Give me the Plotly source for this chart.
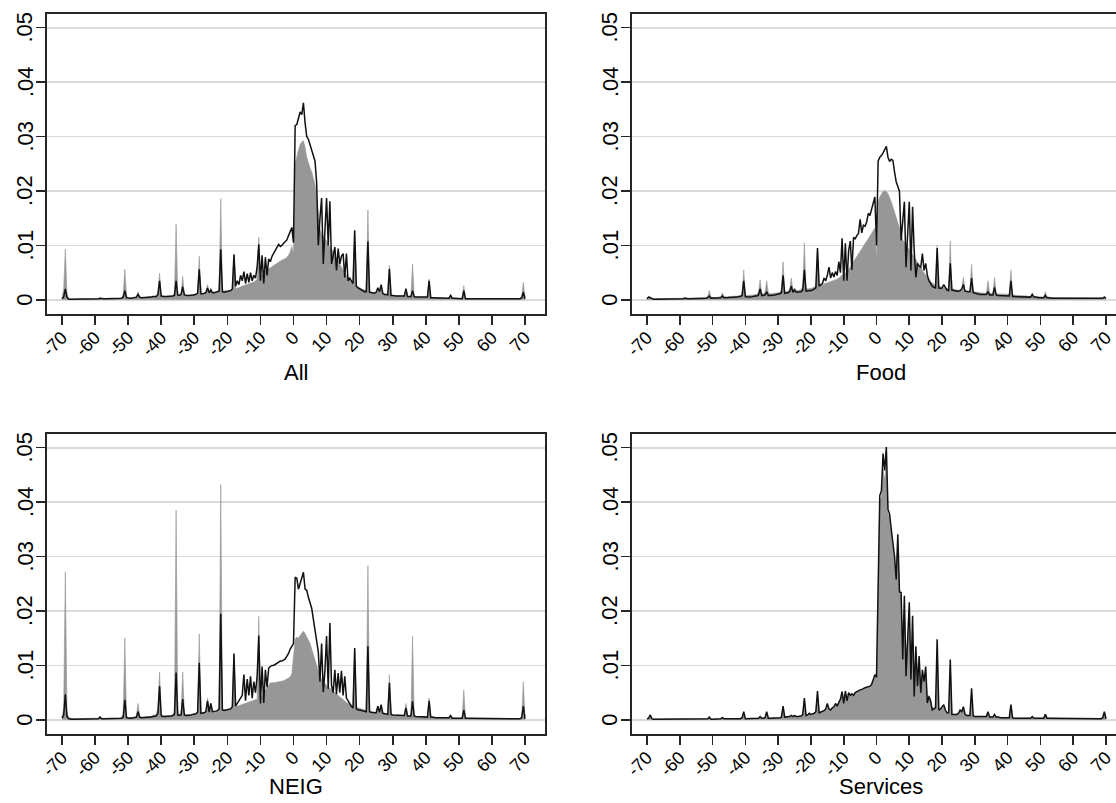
import plotly.graph_objects as go

# ---------------- data (values in units of 0.0001) ----------------
x_values = [i / 2 for i in range(-140, 141)]  # -70 .. 70 step 0.5
unit = 0.0001

panel_titles = ["All", "Food", "NEIG", "Services"]
x_tick_vals = [-70, -60, -50, -40, -30, -20, -10, 0, 10, 20, 30, 40, 50, 60, 70]
x_tick_text = ["-70", "-60", "-50", "-40", "-30", "-20", "-10", "0", "10", "20", "30", "40", "50", "60", "70"]
y_tick_vals = [0, 0.01, 0.02, 0.03, 0.04, 0.05]
y_tick_text = ["0", ".01", ".02", ".03", ".04", ".05"]

fill_all = [
    3, 20, 93, 12, 2, 1, 1, 1, 1, 1, 1, 1, 1, 1, 1, 1, 1, 1, 1, 1,
    1, 1, 2, 4, 2, 1, 1, 1, 2, 2, 2, 2, 2, 2, 2, 2, 3, 10, 56, 8,
    3, 3, 3, 3, 4, 6, 15, 5, 4, 4, 4, 5, 5, 5, 6, 6, 6, 7, 12, 49,
    8, 6, 6, 6, 7, 7, 7, 8, 12, 139, 10, 8, 10, 43, 9, 8, 8, 8, 9, 9,
    9, 10, 14, 80, 12, 11, 12, 14, 28, 13, 22, 14, 14, 15, 15, 20, 186, 18, 16, 17,
    15, 16, 17, 20, 84, 21, 21, 22, 24, 25, 26, 27, 28, 29, 30, 31, 33, 35, 38, 115,
    42, 46, 50, 53, 55, 57, 60, 62, 64, 66, 68, 70, 72, 73, 74, 76, 78, 82, 88, 98,
    85, 250, 265, 275, 285, 290, 292, 280, 262, 250, 242, 235, 225, 212, 190, 165, 130, 122, 118, 112,
    108, 102, 98, 94, 88, 82, 76, 70, 65, 60, 55, 50, 45, 40, 36, 32, 30, 120, 26, 24,
    22, 20, 19, 18, 17, 165, 16, 14, 13, 12, 12, 16, 14, 24, 11, 10, 10, 10, 63, 9,
    8, 8, 8, 7, 7, 7, 7, 7, 22, 6, 6, 6, 66, 6, 5, 5, 5, 5, 5, 5,
    5, 5, 38, 4, 4, 4, 4, 4, 4, 4, 3, 3, 3, 3, 3, 10, 3, 3, 3, 3,
    2, 2, 2, 26, 2, 2, 2, 2, 2, 2, 2, 2, 2, 2, 2, 2, 2, 2, 2, 2,
    2, 2, 2, 2, 2, 2, 2, 2, 2, 2, 2, 2, 2, 2, 2, 2, 2, 2, 5, 32,
    3,
]
line_all = [
    2, 5, 20, 5, 1, 1, 1, 1, 1, 1, 1, 1, 1, 1, 1, 1, 1, 1, 1, 1,
    1, 1, 2, 3, 2, 2, 2, 2, 2, 2, 2, 2, 2, 2, 2, 3, 3, 5, 17, 4,
    3, 3, 3, 4, 4, 5, 10, 5, 4, 4, 4, 5, 5, 5, 5, 6, 6, 6, 10, 35,
    7, 6, 6, 6, 6, 6, 7, 7, 8, 35, 9, 8, 10, 24, 9, 8, 8, 8, 9, 9,
    9, 10, 12, 56, 11, 11, 12, 13, 22, 13, 18, 13, 13, 14, 14, 16, 93, 15, 14, 15,
    15, 16, 17, 20, 83, 25, 35, 28, 45, 35, 52, 30, 48, 32, 50, 35, 45, 40, 60, 102,
    35, 82, 30, 78, 45, 75, 70, 80, 85, 90, 95, 102, 98, 100, 104, 108, 110, 118, 125, 133,
    105, 320, 322, 335, 345, 340, 362, 325, 300, 295, 285, 275, 262, 255, 215, 100, 150, 187, 66, 120,
    187, 100, 181, 66, 80, 97, 54, 94, 66, 80, 85, 41, 85, 35, 40, 35, 30, 128, 25, 22,
    20, 18, 17, 15, 15, 107, 14, 13, 13, 12, 14, 22, 15, 28, 12, 10, 10, 9, 57, 8,
    8, 7, 7, 7, 7, 7, 7, 7, 20, 6, 6, 6, 17, 6, 5, 5, 5, 5, 5, 5,
    5, 5, 35, 4, 4, 4, 4, 4, 4, 4, 3, 3, 3, 3, 3, 8, 3, 3, 3, 3,
    2, 2, 2, 17, 2, 2, 2, 2, 2, 2, 2, 2, 2, 2, 2, 2, 2, 2, 2, 2,
    2, 2, 2, 2, 2, 2, 2, 2, 2, 2, 2, 2, 2, 2, 2, 2, 2, 2, 4, 14,
    2,
]

fill_food = [
    3, 6, 5, 3, 2, 2, 2, 2, 2, 2, 2, 2, 2, 2, 2, 2, 2, 2, 2, 2,
    2, 2, 3, 4, 3, 3, 3, 3, 3, 3, 3, 3, 3, 3, 3, 3, 4, 6, 17, 5,
    4, 4, 4, 4, 5, 6, 13, 6, 5, 5, 6, 6, 6, 6, 7, 7, 7, 8, 12, 55,
    9, 8, 8, 8, 9, 9, 10, 10, 14, 37, 12, 11, 13, 35, 12, 11, 11, 12, 12, 13,
    13, 14, 18, 70, 15, 15, 16, 18, 40, 18, 22, 17, 17, 18, 19, 24, 105, 20, 20, 21,
    21, 22, 23, 25, 95, 26, 27, 28, 29, 30, 31, 32, 33, 34, 35, 37, 38, 40, 42, 45,
    45, 48, 52, 56, 60, 65, 70, 75, 80, 85, 90, 95, 100, 104, 108, 112, 117, 122, 128, 132,
    76, 180, 189, 195, 199, 200, 199, 195, 189, 180, 171, 162, 152, 143, 134, 122, 110, 105, 100, 97,
    92, 88, 83, 78, 73, 69, 64, 60, 55, 50, 45, 41, 37, 34, 31, 29, 27, 100, 25, 24,
    23, 22, 22, 21, 21, 108, 20, 19, 19, 18, 18, 18, 20, 41, 17, 16, 16, 16, 65, 15,
    15, 14, 14, 13, 13, 13, 13, 12, 35, 12, 12, 12, 41, 11, 11, 11, 10, 10, 10, 10,
    10, 10, 55, 9, 9, 8, 8, 8, 8, 7, 7, 7, 7, 6, 6, 12, 6, 6, 6, 5,
    5, 5, 5, 15, 5, 5, 4, 4, 4, 4, 4, 4, 4, 4, 4, 4, 4, 4, 3, 3,
    3, 3, 3, 3, 3, 3, 3, 3, 3, 3, 3, 3, 3, 3, 3, 3, 3, 3, 3, 6,
    3,
]
line_food = [
    2, 5, 4, 2, 1, 1, 1, 1, 1, 1, 1, 1, 1, 1, 1, 1, 1, 1, 1, 1,
    1, 1, 2, 3, 2, 2, 2, 2, 2, 2, 2, 2, 2, 2, 2, 2, 3, 4, 7, 3,
    3, 3, 3, 3, 4, 4, 7, 4, 4, 4, 5, 5, 5, 5, 5, 5, 6, 6, 8, 35,
    6, 5, 5, 5, 6, 6, 7, 7, 9, 20, 8, 8, 9, 15, 8, 8, 8, 9, 9, 10,
    10, 11, 13, 45, 12, 12, 13, 15, 25, 14, 18, 14, 14, 15, 15, 18, 55, 16, 16, 17,
    17, 18, 20, 22, 95, 25, 28, 30, 40, 35, 45, 60, 40, 50, 42, 52, 45, 70, 50, 113,
    35, 104, 35, 90, 108, 55, 115, 112, 118, 122, 148, 123, 137, 135, 143, 159, 155, 165, 175, 189,
    100, 255, 262, 265, 270, 275, 282, 262, 254, 258, 256, 235, 217, 208, 199, 109, 150, 180, 60, 120,
    180, 54, 171, 90, 41, 67, 62, 60, 85, 54, 67, 45, 35, 30, 25, 23, 22, 95, 22, 21,
    22, 28, 22, 18, 17, 67, 18, 17, 16, 16, 16, 17, 20, 28, 16, 15, 15, 15, 40, 13,
    12, 11, 11, 10, 10, 10, 10, 10, 15, 9, 9, 9, 23, 9, 8, 8, 8, 8, 8, 7,
    7, 7, 35, 6, 6, 6, 6, 5, 5, 5, 5, 5, 5, 5, 5, 10, 5, 5, 4, 4,
    4, 4, 4, 8, 4, 4, 3, 3, 3, 3, 3, 3, 3, 3, 3, 3, 3, 3, 3, 3,
    3, 3, 3, 3, 3, 2, 2, 2, 2, 2, 2, 2, 2, 2, 2, 2, 2, 2, 3, 5,
    3,
]

fill_neig = [
    5, 20, 272, 15, 4, 3, 2, 2, 2, 2, 2, 2, 2, 2, 2, 2, 2, 2, 2, 2,
    2, 2, 3, 6, 3, 2, 2, 2, 3, 3, 3, 3, 3, 3, 3, 3, 4, 10, 150, 8,
    4, 4, 4, 5, 5, 8, 30, 7, 5, 5, 5, 6, 6, 6, 7, 8, 8, 10, 22, 88,
    9, 7, 7, 7, 8, 8, 8, 9, 14, 385, 12, 10, 12, 88, 10, 9, 9, 9, 10, 10,
    10, 11, 15, 158, 13, 12, 13, 15, 40, 16, 30, 15, 15, 16, 17, 22, 432, 20, 18, 19,
    19, 20, 21, 24, 120, 24, 25, 26, 27, 28, 29, 30, 31, 32, 33, 34, 35, 36, 38, 190,
    40, 44, 50, 55, 60, 64, 68, 68, 68, 69, 69, 70, 70, 71, 72, 73, 75, 77, 79, 85,
    120, 148, 152, 150, 155, 160, 163, 158, 152, 148, 140, 130, 120, 108, 96, 88, 80, 74, 70, 66,
    62, 60, 58, 56, 53, 50, 47, 45, 42, 40, 37, 35, 32, 30, 28, 26, 25, 130, 23, 22,
    21, 20, 19, 18, 17, 283, 16, 15, 14, 14, 13, 25, 13, 25, 12, 11, 11, 10, 83, 10,
    9, 9, 9, 8, 8, 8, 8, 8, 30, 7, 7, 7, 154, 7, 6, 6, 6, 6, 6, 5,
    5, 5, 40, 5, 5, 4, 4, 4, 4, 4, 4, 4, 4, 4, 4, 8, 3, 3, 3, 3,
    3, 3, 3, 55, 3, 3, 3, 3, 3, 3, 3, 3, 3, 3, 3, 3, 2, 2, 2, 2,
    2, 2, 2, 2, 2, 2, 2, 2, 2, 2, 2, 2, 2, 2, 2, 2, 2, 2, 5, 70,
    3,
]
line_neig = [
    3, 8, 47, 6, 2, 1, 1, 1, 1, 1, 1, 1, 1, 1, 1, 1, 1, 1, 1, 1,
    1, 1, 2, 5, 2, 2, 2, 2, 2, 2, 2, 2, 2, 2, 2, 3, 3, 5, 37, 4,
    3, 3, 3, 4, 4, 5, 15, 5, 4, 4, 4, 5, 5, 5, 5, 6, 6, 7, 12, 62,
    8, 6, 6, 6, 7, 7, 7, 8, 10, 87, 9, 8, 9, 38, 9, 8, 8, 9, 9, 10,
    10, 11, 14, 105, 12, 12, 13, 15, 35, 14, 30, 15, 15, 16, 17, 20, 195, 18, 17, 18,
    18, 19, 20, 24, 122, 25, 30, 35, 40, 45, 83, 35, 75, 45, 80, 40, 70, 50, 80, 155,
    30, 98, 31, 92, 60, 95, 98, 100, 100, 102, 105, 106, 108, 108, 110, 112, 117, 122, 130, 135,
    140, 262, 260, 240, 250, 258, 271, 240, 238, 225, 215, 205, 185, 165, 154, 125, 70, 140, 51, 90,
    154, 57, 178, 63, 50, 92, 47, 86, 50, 90, 45, 80, 40, 35, 28, 25, 22, 132, 20, 18,
    18, 17, 16, 15, 15, 135, 15, 14, 13, 13, 13, 25, 14, 28, 12, 11, 11, 10, 68, 10,
    9, 9, 8, 8, 8, 8, 8, 8, 22, 7, 7, 7, 34, 7, 6, 6, 6, 6, 6, 5,
    5, 5, 35, 5, 5, 4, 4, 4, 4, 4, 4, 4, 4, 4, 4, 8, 3, 3, 3, 3,
    3, 3, 3, 18, 3, 3, 3, 3, 3, 3, 3, 3, 3, 3, 3, 3, 2, 2, 2, 2,
    2, 2, 2, 2, 2, 2, 2, 2, 2, 2, 2, 2, 2, 2, 2, 2, 2, 2, 4, 25,
    2,
]

fill_serv = [
    1, 2, 7, 2, 1, 1, 1, 1, 1, 1, 1, 1, 1, 1, 1, 1, 1, 1, 1, 1,
    1, 1, 1, 2, 1, 1, 1, 1, 1, 1, 1, 1, 1, 1, 1, 1, 1, 2, 4, 1,
    1, 1, 1, 1, 2, 2, 3, 2, 2, 2, 2, 2, 2, 2, 2, 2, 2, 2, 4, 13,
    2, 2, 2, 2, 2, 2, 3, 3, 3, 5, 3, 3, 4, 13, 3, 3, 3, 3, 4, 4,
    4, 4, 5, 22, 5, 5, 6, 6, 8, 6, 8, 6, 6, 7, 7, 10, 36, 8, 9, 11,
    10, 11, 12, 14, 48, 13, 14, 15, 17, 19, 28, 19, 18, 21, 23, 28, 25, 30, 36, 48,
    33, 50, 36, 48, 44, 47, 45, 49, 51, 53, 54, 55, 57, 58, 59, 60, 61, 64, 73, 80,
    75, 240, 400, 410, 460, 440, 470, 380, 370, 345, 320, 295, 260, 300, 240, 225, 150, 200, 120, 140,
    190, 95, 170, 65, 120, 75, 105, 62, 85, 70, 88, 40, 45, 36, 22, 22, 22, 130, 19, 20,
    23, 26, 17, 13, 13, 100, 10, 10, 10, 10, 12, 17, 15, 22, 10, 8, 8, 8, 50, 7,
    6, 6, 6, 6, 6, 6, 6, 6, 14, 5, 5, 5, 9, 5, 5, 4, 4, 4, 4, 4,
    4, 4, 25, 4, 3, 3, 3, 3, 3, 3, 3, 3, 3, 3, 3, 5, 3, 3, 3, 3,
    3, 3, 3, 9, 3, 3, 3, 3, 3, 3, 2, 2, 2, 2, 2, 2, 2, 2, 2, 2,
    2, 2, 2, 2, 2, 2, 2, 2, 2, 2, 2, 2, 2, 2, 2, 2, 2, 2, 4, 13,
    2,
]
line_serv = [
    2, 3, 9, 2, 1, 1, 1, 1, 1, 1, 1, 1, 1, 1, 1, 1, 1, 1, 1, 1,
    1, 1, 1, 2, 1, 1, 1, 1, 1, 1, 1, 1, 1, 1, 1, 1, 1, 2, 5, 1,
    1, 1, 1, 1, 2, 2, 4, 2, 2, 2, 2, 2, 2, 2, 2, 2, 2, 2, 4, 15,
    2, 2, 2, 2, 2, 2, 3, 3, 3, 6, 3, 3, 4, 15, 3, 3, 3, 3, 4, 4,
    4, 4, 5, 25, 5, 5, 6, 6, 8, 6, 8, 6, 6, 7, 7, 10, 40, 8, 9, 12,
    10, 11, 12, 15, 53, 13, 14, 15, 17, 20, 30, 20, 18, 22, 24, 30, 25, 32, 38, 52,
    30, 53, 35, 50, 45, 48, 45, 50, 52, 54, 55, 56, 58, 59, 60, 61, 62, 65, 75, 83,
    78, 253, 412, 421, 489, 458, 501, 387, 378, 350, 326, 300, 258, 341, 235, 234, 111, 228, 80, 150,
    216, 74, 191, 43, 135, 62, 117, 50, 92, 70, 98, 31, 43, 35, 18, 20, 22, 148, 18, 20,
    24, 28, 18, 13, 13, 111, 10, 10, 10, 10, 12, 18, 15, 24, 10, 8, 8, 8, 58, 7,
    6, 6, 6, 6, 6, 6, 6, 6, 15, 5, 5, 5, 10, 5, 5, 4, 4, 4, 4, 4,
    4, 4, 28, 4, 3, 3, 3, 3, 3, 3, 3, 3, 3, 3, 3, 6, 3, 3, 3, 3,
    3, 3, 3, 10, 3, 3, 3, 3, 3, 3, 2, 2, 2, 2, 2, 2, 2, 2, 2, 2,
    2, 2, 2, 2, 2, 2, 2, 2, 2, 2, 2, 2, 2, 2, 2, 2, 2, 2, 4, 15,
    2,
]

# ---------------- figure ----------------
W, H = 1116, 803
FONT = "Liberation Sans, Arial, Helvetica, sans-serif"
FILL = "#979797"
FRAME = "#262626"

panels = [
    (fill_all, line_all),
    (fill_food, line_food),
    (fill_neig, line_neig),
    (fill_serv, line_serv),
]

# pixel geometry of the four plot frames
col_px = [(47, 545), (632, 1116)]
row_px = [(14, 314), (434, 734)]
x_ranges = [[-74.54, 76.05], [-74.58, 73.05]]
y_range = [-0.0026, 0.0525]
title_x_px = [296, 881]
title_y_px = [372, 786]
ylabel_offset_px = 22  # centre of the rotated y labels, left of the frame

fig = go.Figure()
layout = dict(
    width=W, height=H,
    margin=dict(l=0, r=0, t=0, b=0, autoexpand=False),
    paper_bgcolor="white", plot_bgcolor="white",
    showlegend=False,
    font=dict(family=FONT, color="black"),
    annotations=[],
)

for k, (fill_vals, line_vals) in enumerate(panels):
    r, c = divmod(k, 2)
    n = k + 1
    xa = "x" if n == 1 else f"x{n}"
    ya = "y" if n == 1 else f"y{n}"
    fig.add_trace(go.Scatter(
        x=x_values, y=[v * unit for v in fill_vals],
        mode="lines", fill="tozeroy", fillcolor=FILL,
        line=dict(color=FILL, width=0.6),
        xaxis=xa, yaxis=ya, hoverinfo="skip",
    ))
    fig.add_trace(go.Scatter(
        x=x_values, y=[v * unit for v in line_vals],
        mode="lines", line=dict(color="#111111", width=1.5),
        xaxis=xa, yaxis=ya, hoverinfo="skip",
    ))
    x0, x1 = col_px[c]
    y0, y1 = row_px[r]
    xkey = "xaxis" if n == 1 else f"xaxis{n}"
    ykey = "yaxis" if n == 1 else f"yaxis{n}"
    layout[xkey] = dict(
        domain=[x0 / W, x1 / W], anchor=ya, range=x_ranges[c], automargin=False,
        tickmode="array", tickvals=x_tick_vals, ticktext=x_tick_text,
        tickangle=-45, ticks="outside", ticklen=9, tickwidth=1.6, tickcolor=FRAME,
        tickfont=dict(size=18, family=FONT, color="black"),
        ticklabelstandoff=-5, ticklabelshift=0, ticklabeloverflow="allow",
        showgrid=False, zeroline=False,
        showline=True, linecolor=FRAME, linewidth=2, mirror=True,
    )
    layout[ykey] = dict(
        domain=[1 - y1 / H, 1 - y0 / H], anchor=xa, range=y_range, automargin=False,
        tickmode="array", tickvals=y_tick_vals, ticktext=y_tick_text,
        showticklabels=False,
        ticks="outside", ticklen=9, tickwidth=1.6, tickcolor=FRAME,
        showgrid=True, gridcolor="#dadada", gridwidth=1.8, zeroline=False,
        showline=True, linecolor=FRAME, linewidth=2, mirror=(c == 0),
    )
    # rotated y tick labels (reading bottom to top), placed at each tick value
    for tv, tt in zip(y_tick_vals, y_tick_text):
        layout["annotations"].append(dict(
            text=tt, xref="paper", yref=ya,
            x=(x0 - ylabel_offset_px) / W, y=tv,
            xanchor="center", yanchor="middle", textangle=-90,
            showarrow=False, borderpad=0,
            font=dict(size=22, family=FONT, color="black"),
        ))
    layout["annotations"].append(dict(
        text=panel_titles[k], xref="paper", yref="paper",
        x=title_x_px[c] / W, y=1 - title_y_px[r] / H,
        xanchor="center", yanchor="middle", showarrow=False,
        font=dict(size=22, family=FONT, color="black"),
    ))

fig.update_layout(**layout)
fig.write_html(
    "out.html",
    config={"displayModeBar": False, "staticPlot": True},
    post_script="document.body.style.margin='0';document.body.style.overflow='hidden';",
)
